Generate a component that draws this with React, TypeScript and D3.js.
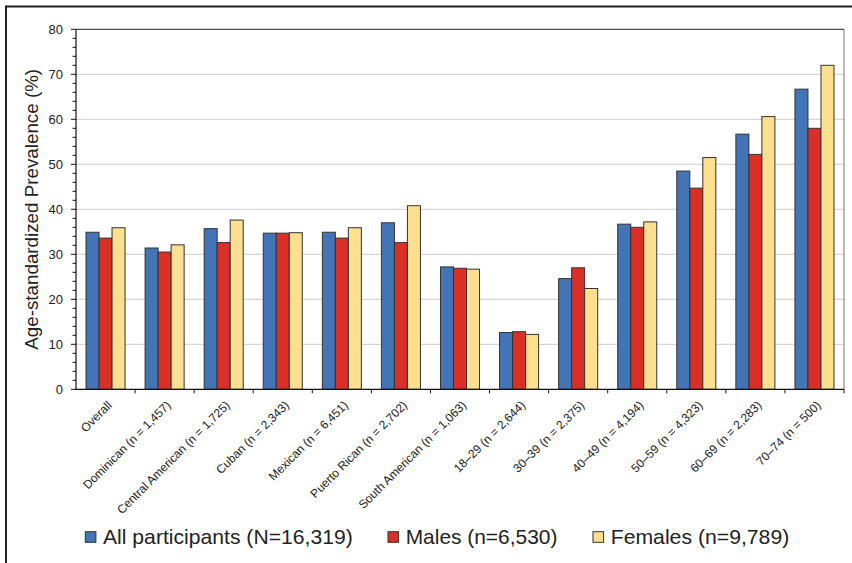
import React from "react";
import * as d3 from "d3";

const categories = [
  "Overall",
  "Dominican (n = 1,457)",
  "Central American (n = 1,725)",
  "Cuban (n = 2,343)",
  "Mexican (n = 6,451)",
  "Puerto Rican (n = 2,702)",
  "South American (n = 1,063)",
  "18–29 (n = 2,644)",
  "30–39 (n = 2,375)",
  "40–49 (n = 4,194)",
  "50–59 (n = 4,323)",
  "60–69 (n = 2,283)",
  "70–74 (n = 500)",
];

const allParticipants = [34.9, 31.4, 35.7, 34.7, 34.9, 37.0, 27.2, 12.6, 24.6, 36.7, 48.5, 56.7, 66.7];
const males = [33.6, 30.5, 32.6, 34.7, 33.6, 32.6, 26.9, 12.8, 27.0, 36.0, 44.7, 52.2, 58.0];
const females = [35.9, 32.1, 37.6, 34.8, 35.9, 40.8, 26.7, 12.2, 22.4, 37.2, 51.5, 60.6, 72.0];

const seriesNames = ["All participants (N=16,319)", "Males (n=6,530)", "Females (n=9,789)"];
const seriesColors = ["#4274b6", "#d92f27", "#fce08f"];
const yTicks = [0, 10, 20, 30, 40, 50, 60, 70, 80];
const yTitle = "Age-standardized Prevalence (%)";

export default function App() {
  const W = 852, H = 563;
  const left = 76, right = 844, top = 29.3, bottom = 389.3;
  const x = d3.scaleBand<string>().domain(categories).range([left, right]).paddingInner(0).paddingOuter(0);
  const series = [allParticipants, males, females];
  const inner = d3.scaleBand<number>().domain([0, 1, 2]).range([0, x.bandwidth()]).paddingInner(0).paddingOuter(0.77);
  const y = d3.scaleLinear().domain([0, 80]).range([bottom, top]);
  const minor = d3.range(0, 81, 2);
  const font = "Liberation Sans, Arial, sans-serif";
  const legendX = [85.3, 388, 593];
  const legendW = [249.7, 151.7, 178.6];

  return (
    <svg width={W} height={H} style={{ position: "absolute", left: 0, top: 0, background: "#fff" }} fontFamily={font}>
      <rect x={0} y={0} width={W} height={H} fill="#fff" />
      {/* outer frame */}
      <line x1={6} x2={W} y1={6.5} y2={6.5} stroke="#222" strokeWidth={2} />
      <line x1={6} x2={6} y1={5.5} y2={H} stroke="#222" strokeWidth={2} />
      {/* gridlines */}
      {yTicks.slice(1, -1).map((t) => (
        <line key={t} x1={left} x2={right} y1={y(t)} y2={y(t)} stroke="#cccccc" strokeWidth={1} />
      ))}
      {/* plot border */}
      <line x1={left} x2={right} y1={top} y2={top} stroke="#222" strokeWidth={1} />
      <line x1={right} x2={right} y1={top} y2={bottom} stroke="#777" strokeWidth={1} />
      {/* bars */}
      {categories.map((c, i) => (
        <g key={c}>
          {series.map((s, k) => (
            <rect
              key={k}
              x={(x(c) as number) + (inner(k) as number)}
              y={y(s[i])}
              width={inner.bandwidth()}
              height={bottom - y(s[i])}
              fill={seriesColors[k]}
              stroke="#333"
              strokeWidth={1}
            />
          ))}
        </g>
      ))}
      {/* y axis */}
      <line x1={left} x2={left} y1={top} y2={bottom} stroke="#111" strokeWidth={1.2} />
      {minor.map((t) => (
        <line key={t} x1={t % 10 === 0 ? 71 : 72.5} x2={left} y1={y(t)} y2={y(t)} stroke="#111" strokeWidth={1} />
      ))}
      {yTicks.map((t) => (
        <text key={t} x={63} y={y(t)} dy="0.35em" textAnchor="end" fontSize={13} fill="#222">
          {t}
        </text>
      ))}
      <text
        transform={`translate(38,${(top + bottom) / 2}) rotate(-90)`}
        textAnchor="middle"
        fontSize={18.8}
        fill="#222"
      >
        {yTitle}
      </text>
      {/* x axis */}
      <line x1={left} x2={right} y1={bottom} y2={bottom} stroke="#111" strokeWidth={1.2} />
      {categories.map((c) => (
        <line key={c} x1={(x(c) as number) + x.bandwidth()} x2={(x(c) as number) + x.bandwidth()} y1={bottom} y2={bottom + 4} stroke="#111" strokeWidth={1} />
      ))}
      {categories.map((c) => {
        const cx = (x(c) as number) + x.bandwidth() / 2;
        return (
          <text key={c} transform={`translate(${cx + 7},406) rotate(-45)`} textAnchor="end" fontSize={12} fill="#222">
            {c}
          </text>
        );
      })}
      {/* legend */}
      {seriesNames.map((n, k) => (
        <g key={n}>
          <rect x={legendX[k]} y={531.7} width={10.6} height={10.6} fill={seriesColors[k]} stroke="#333" strokeWidth={1} />
          <text
            x={legendX[k] + 17.7}
            y={544}
            fontSize={20.7}
            fill="#222"
            textLength={legendW[k]}
            lengthAdjust="spacingAndGlyphs"
          >
            {n}
          </text>
        </g>
      ))}
    </svg>
  );
}
